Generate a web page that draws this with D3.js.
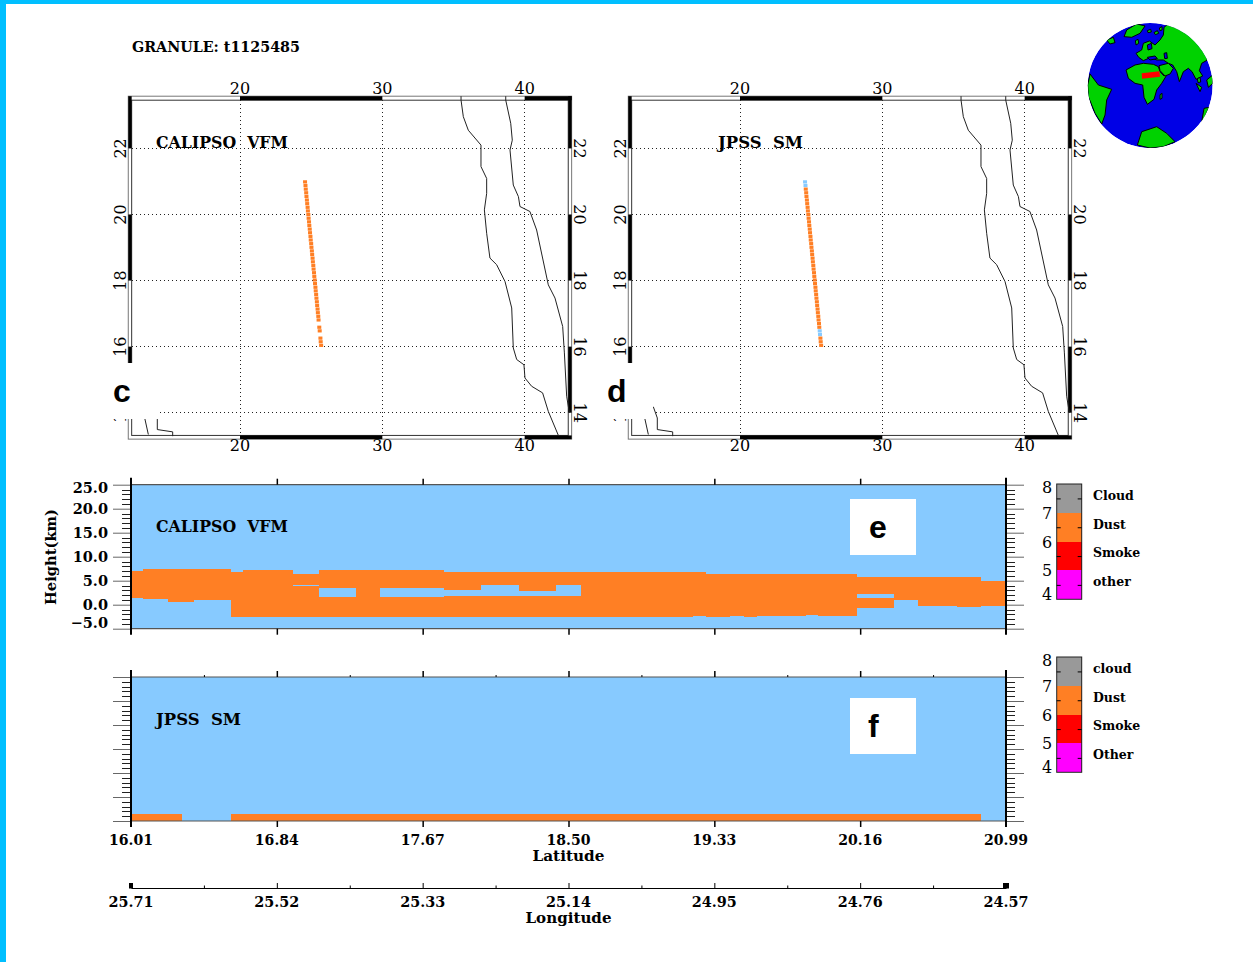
<!DOCTYPE html>
<html><head><meta charset="utf-8">
<script src="https://cdnjs.cloudflare.com/ajax/libs/d3/7.8.5/d3.min.js"></script>
<style>html,body{margin:0;padding:0;background:#fff}svg{display:block}text{white-space:pre}</style>
</head><body>
<svg id="c" width="1253" height="962"></svg>
<script>
const granule = "GRANULE: t1125485";
// Map data (degrees)
const lonTicks = [20,30,40];
const latTicks = [22,20,18,16,14];
const lonBands = [[20,30],[40,43.3]];
const latBands = [[23.58,22],[20,18],[16,14]];
const coastA = [[35.53,23.58],[35.53,23.46],[35.69,22.96],[36.04,22.55],[36.93,22.10],[36.93,21.45],[37.33,21.09],[37.33,20.64],[37.17,20.14],[37.33,19.43],[37.56,18.68],[38.03,18.48],[38.62,17.97],[39.09,17.17],[39.20,15.96],[39.44,15.61],[39.95,15.45],[40.02,15.05],[40.49,14.80],[41.26,14.60],[41.66,14.04],[42.37,13.31]];
const coastB = [[38.67,23.58],[38.67,23.46],[39.02,22.76],[39.13,22.25],[38.97,21.95],[39.20,20.89],[39.56,20.54],[39.67,20.24],[40.37,20.09],[40.84,19.53],[41.66,17.87],[42.13,17.47],[42.67,16.61],[42.79,15.81],[42.95,14.50],[43.14,13.99]];
const coastC = [[13.91,14.18],[14.19,13.84],[14.19,13.49],[15.27,13.42],[15.27,13.29]];
const coastD = [[13.32,13.81],[13.56,13.34]];
const trackLat = [20.99,20.88,20.77,20.66,20.55,20.44,20.33,20.22,20.11,20.00,19.89,19.78,19.67,19.56,19.45,19.34,19.23,19.12,19.01,18.90,18.79,18.68,18.57,18.46,18.35,18.24,18.13,18.02,17.91,17.80,17.69,17.58,17.47,17.36,17.25,17.14,17.03,16.92,16.81,16.70,16.59,16.48,16.37,16.26,16.15,16.04];
const trackLon = [24.57,24.60,24.62,24.65,24.67,24.70,24.72,24.75,24.77,24.80,24.82,24.85,24.87,24.90,24.92,24.95,24.97,25.00,25.02,25.05,25.07,25.10,25.12,25.15,25.17,25.20,25.22,25.25,25.27,25.30,25.32,25.35,25.37,25.40,25.42,25.45,25.47,25.50,25.52,25.55,25.57,25.60,25.62,25.65,25.67,25.70];
const vfmDust = [1,1,1,1,1,1,1,1,1,1,1,1,1,1,1,1,1,1,1,1,1,1,1,1,1,1,1,1,1,1,1,1,1,1,1,1,1,1,1,0,1,1,0,1,1,1];
const smDust  = [0,0,1,1,1,1,1,1,1,1,1,1,1,1,1,1,1,1,1,1,1,1,1,1,1,1,1,1,1,1,1,1,1,1,1,1,1,1,1,1,1,0,0,1,1,1];
// Curtain data: latitude start, latitude end, layer base, layer top (km)
const vfmFrom = [16.01,16.08,16.22,16.37,16.58,16.65,16.93,16.93,17.08,17.08,17.29,17.43,17.43,17.79,17.79,18.00,18.00,18.22,18.22,18.43,18.43,18.57,19.21,19.28,19.42,19.50,19.57,19.85,19.92,20.14,20.14,20.35,20.49,20.71,20.85];
const vfmTo   = [16.08,16.22,16.37,16.58,16.65,16.93,17.08,17.08,17.29,17.29,17.43,17.79,17.79,18.00,18.00,18.22,18.22,18.43,18.43,18.57,18.57,19.21,19.28,19.42,19.50,19.57,19.85,19.92,20.14,20.35,20.35,20.49,20.71,20.85,20.99];
const vfmBase = [1.4,1.2,0.6,1.0,-2.6,-2.6,4.1,-2.6,3.5,-2.6,-2.6,3.5,-2.6,3.05,-2.6,4.2,-2.6,2.85,-2.6,4.2,-2.6,-2.6,-2.3,-2.6,-2.3,-2.6,-2.4,-2.15,-2.4,2.2,-0.75,1.0,-0.35,-0.55,-0.35];
const vfmTop  = [7.0,7.4,7.4,7.4,6.8,7.2,6.5,3.8,7.2,1.6,7.2,7.2,1.6,6.8,1.8,6.8,1.8,6.8,1.8,6.8,1.8,6.8,6.8,6.45,6.45,6.45,6.45,6.45,6.45,5.8,1.3,5.8,5.8,5.8,4.85];
const smFrom = [16.01,16.58];
const smTo   = [16.30,20.85];
const smBase = [-5,-5];
const smTop  = [-3.5,-3.5];
// Axes
const heightMajor = [25,20,15,10,5,0,-5];
const heightMinor = [24,23,22,21,19,18,17,16,14,13,12,11,9,8,7,6,4,3,2,1,-1,-2,-3,-4];
const latAxisTicks = [16.01,16.84,17.67,18.50,19.33,20.16,20.99];
const latAxisLabels = ["16.01","16.84","17.67","18.50","19.33","20.16","20.99"];
const lonAxisLabels = ["25.71","25.52","25.33","25.14","24.95","24.76","24.57"];
const lonAxisTicks = [25.71,25.52,25.33,25.14,24.95,24.76,24.57];
const lonAxisMinor = [25.615,25.425,25.235,25.045,24.855,24.665];
const latAxisMinor = [16.425,17.255,18.085,18.915,19.745,20.575];
// Legends
const legendCodes = [7,6,5,4];
const legendColors = ["#999999","#FF7F24","#FF0000","#FF00FF"];
const legendNamesE = ["Cloud","Dust","Smoke","other"];
const legendNamesF = ["cloud","Dust","Smoke","Other"];
const legendTicks = [8,7,6,5,4];
// Globe outlines, in reading units of the inset
const landEurasia = [[312,82],[322,74],[345,82],[385,100],[412,128],[437,160],[442,180],[425,190],[418,212],[428,228],[408,238],[396,215],[385,205],[370,215],[358,245],[350,215],[338,195],[325,190],[310,180],[290,180],[272,172],[250,182],[236,172],[228,160],[245,150],[250,130],[268,123],[285,135],[300,120],[310,105]];
const landAfrica = [[198,210],[225,195],[250,190],[280,193],[295,200],[300,215],[312,228],[322,222],[305,250],[290,270],[282,298],[262,313],[252,292],[248,255],[225,250],[205,235]];
const landArabia = [[297,197],[325,190],[340,205],[330,222],[315,228],[300,212]];
const landGreenland = [[192,110],[200,90],[230,72],[255,78],[240,100],[215,112]];
const landSouthAmerica = [[90,222],[115,255],[155,268],[140,300],[135,345],[125,372],[105,340],[85,290],[83,255]];
const landAntarctica = [[232,435],[245,395],[290,380],[320,400],[345,425],[310,440],[270,444]];
const landAustralia = [[432,325],[447,322],[435,350],[425,365]];
const landIndonesia = [[440,240],[458,225],[458,250],[445,262]];
const landBorneo = [[408,250],[425,262],[420,275]];
const landBritain = [[226,122],[234,118],[236,130],[228,135]];
const landIceland = [[140,120],[160,112],[165,128],[150,132]];
const landMadagascar = [[300,284],[306,280],[306,295],[300,298]];
const islandNorth1 = [[262,92],[272,88],[274,96],[264,98]];
const islandNorth2 = [[282,98],[292,92],[296,100],[286,104]];
const islandNorth3 = [[298,84],[306,80],[306,90],[300,92]];
const islandJapan = [[412,236],[420,232],[422,246],[414,248]];
const seaBlack = [[262,172],[285,168],[292,176],[270,180]];
const seaCaspian = [[312,160],[320,158],[322,175],[314,176]];
const seaBaltic = [[262,135],[274,130],[276,146],[264,150]];
const globeLands = [landEurasia,landAfrica,landArabia,landGreenland,landSouthAmerica,landAntarctica,landAustralia,landIndonesia,landBorneo,landBritain,landIceland,landMadagascar,islandNorth1,islandNorth2,islandNorth3,islandJapan];
const globeSeas = [seaBlack,seaCaspian,seaBaltic];
const swath = [[245,220],[298,214],[300,230],[246,236]];

const SERIF = "'DejaVu Serif','Liberation Serif',serif";
const SANS = "'Liberation Sans',Arial,sans-serif";
const DUST = "#FF7F24", CLEAR = "#87CAFF";
const svg = d3.select("#c");
svg.append("rect").attr("width",1253).attr("height",962).attr("fill","#fff");
svg.append("rect").attr("width",1253).attr("height",4).attr("fill","#00BFFF");
svg.append("rect").attr("width",6).attr("height",962).attr("fill","#00BFFF");

function txt(p,x,y,s,o={}){
  const t=p.append("text").attr("x",x).attr("y",y).text(s)
    .attr("font-family",o.family||SERIF).attr("font-size",o.size||14)
    .attr("font-weight",o.weight||"bold").attr("fill","#000")
    .attr("text-anchor",o.anchor||"start");
  if(o.len) t.attr("textLength",o.len).attr("lengthAdjust","spacingAndGlyphs");
  if(o.rot!==undefined) t.attr("transform",`rotate(${o.rot} ${x} ${y})`);
  return t;
}
txt(svg,132,51.5,granule,{size:14,len:168});

function drawMap(dx,title,titleX,titleLen,flags,noDust,letter,letterX,patchW){
  const g=svg.append("g");
  const x=d3.scaleLinear().domain([20,40]).range([240+dx,524.67+dx]);
  const y=d3.scaleLinear().domain([22,14]).range([148.4,412.7]);
  const L=x(12.15),R=x(43.3),T=y(23.58),B=y(13.2);
  const iL=L+3.4,iR=R-3.4,iT=T+4,iB=B-3.7;
  // grid
  g.append("g").selectAll("line").data(lonTicks).join("line")
    .attr("x1",d=>x(d)).attr("x2",d=>x(d)).attr("y1",iT).attr("y2",iB)
    .attr("stroke","#222").attr("stroke-dasharray","1 3").attr("shape-rendering","crispEdges");
  g.append("g").selectAll("line").data(latTicks).join("line")
    .attr("x1",iL).attr("x2",iR).attr("y1",d=>y(d)).attr("y2",d=>y(d))
    .attr("stroke","#222").attr("stroke-dasharray","1 3").attr("shape-rendering","crispEdges");
  // frame
  g.append("rect").attr("x",L).attr("y",T).attr("width",R-L).attr("height",B-T).attr("fill","none").attr("stroke","#777").attr("stroke-width",1);
  g.append("rect").attr("x",iL).attr("y",iT).attr("width",iR-iL).attr("height",iB-iT).attr("fill","none").attr("stroke","#333").attr("stroke-width",1);
  lonBands.forEach(b=>{
    [[T,iT],[iB,B]].forEach(v=>g.append("rect").attr("x",x(b[0])).attr("y",v[0]).attr("width",Math.min(x(b[1]),R)-x(b[0])).attr("height",v[1]-v[0]).attr("fill","#000"));
  });
  latBands.forEach(b=>{
    [[L,iL],[iR,R]].forEach(v=>g.append("rect").attr("x",v[0]).attr("y",y(b[0])).attr("width",v[1]-v[0]).attr("height",y(b[1])-y(b[0])).attr("fill","#000"));
  });
  // coast
  const line=d3.line().x(d=>x(d[0])).y(d=>y(d[1]));
  [coastA,coastB,coastC,coastD].forEach(c=>g.append("path").attr("d",line(c)).attr("fill","none").attr("stroke","#222").attr("stroke-width",1));
  // labels
  lonTicks.forEach(d=>{
    txt(g,x(d),93.5,d,{size:16,weight:"normal",anchor:"middle"});
    txt(g,x(d),451,d,{size:16,weight:"normal",anchor:"middle"});
  });
  latTicks.forEach(d=>{
    txt(g,126+dx,y(d),d,{size:16,weight:"normal",anchor:"middle",rot:-90});
    txt(g,574+dx,y(d),d,{size:16,weight:"normal",anchor:"middle",rot:90});
  });
  txt(g,titleX+dx,148,title,{size:16.5,len:titleLen});
  // track
  g.append("g").selectAll("rect").data(trackLat).join("rect")
    .attr("x",(d,i)=>x(trackLon[i])-2).attr("y",d=>y(d)-1.5).attr("width",4).attr("height",3.2)
    .attr("fill",(d,i)=>flags[i]?DUST:noDust).attr("opacity",(d,i)=>(flags[i]||noDust!=="none")?1:0);
  // letter patch
  g.append("rect").attr("x",105+dx).attr("y",363).attr("width",patchW).attr("height",56).attr("fill","#fff");
  txt(g,letterX+dx,401.7,letter,{family:SANS,size:32});
}
drawMap(0,"CALIPSO  VFM",156,132,vfmDust,"none","c",113,55);
drawMap(500,"JPSS  SM",218,85,smDust,CLEAR,"d",107,48);

// Globe
(function(){
  const gx=d3.scaleLinear().domain([83,458]).range([1087.7,1212.7]);
  const gy=d3.scaleLinear().domain([70,443]).range([23.3,147.7]);
  const g=svg.append("g");
  const cid="globeclip";
  svg.append("defs").append("clipPath").attr("id",cid).append("circle").attr("cx",gx(270.5)).attr("cy",gy(256.5)).attr("r",62.4);
  const inner=g.append("g").attr("clip-path",`url(#${cid})`);
  inner.append("circle").attr("cx",gx(270.5)).attr("cy",gy(256.5)).attr("r",62.4).attr("fill","#0000E6");
  const ln=d3.line().x(d=>gx(d[0])).y(d=>gy(d[1])).curve(d3.curveLinearClosed);
  globeLands.forEach(p=>inner.append("path").attr("d",ln(p)).attr("fill","#00D200").attr("stroke","#000").attr("stroke-width",1));
  globeSeas.forEach(p=>inner.append("path").attr("d",ln(p)).attr("fill","#0000E6").attr("stroke","#000").attr("stroke-width",1));
  inner.append("path").attr("d",ln(swath)).attr("fill","#FF0000");
})();

// Curtains
const xLat=d3.scaleLinear().domain([16.01,20.99]).range([131,1006]);
function curtain(yTop,from,to,base,top,labels,title,titleLen,letter,letterX,patchY,topMinor){
  const yB=yTop+144;
  const y=d3.scaleLinear().domain([-5,25]).range([yB,yTop]);
  const g=svg.append("g");
  g.append("rect").attr("x",xLat.range()[0]).attr("y",y(25)).attr("width",875).attr("height",y(-5)-y(25)).attr("fill",CLEAR);
  g.append("g").attr("shape-rendering","crispEdges").selectAll("rect").data(from).join("rect")
    .attr("x",d=>xLat(d)).attr("width",(d,i)=>xLat(to[i])-xLat(d))
    .attr("y",(d,i)=>y(top[i])).attr("height",(d,i)=>y(base[i])-y(top[i])).attr("fill",DUST);
  // frame
  [25,-5].forEach(v=>g.append("line").attr("x1",131).attr("x2",1006).attr("y1",y(v)).attr("y2",y(v)).attr("stroke","#555").attr("stroke-width",1.2));
  // y axes
  const styleAxis=(a,col)=>{a.select(".domain").remove();a.selectAll("line").attr("stroke",col);};
  [[d3.axisLeft,131],[d3.axisRight,1006]].forEach(([ax,px])=>{
    const maj=g.append("g").attr("transform",`translate(${px},0)`).call(ax(y).tickValues(heightMajor).tickSizeOuter(0).tickSize(18).tickFormat(""));
    styleAxis(maj,"#666");
    const mn=g.append("g").attr("transform",`translate(${px},0)`).call(ax(y).tickValues(heightMinor).tickSizeOuter(0).tickSize(9).tickFormat(""));
    styleAxis(mn,"#222");
    mn.selectAll("line").attr("shape-rendering","crispEdges");
    g.append("line").attr("x1",px).attr("x2",px).attr("y1",yTop-7).attr("y2",yB+6).attr("stroke","#000").attr("stroke-width",2);
  });
  // x ticks
  const inside=latAxisTicks.slice(1,-1);
  const t=g.append("g").attr("transform",`translate(0,${yTop})`).call(d3.axisTop(xLat).tickValues(inside).tickSizeOuter(0).tickSize(6).tickFormat(""));
  styleAxis(t,"#000"); t.selectAll("line").attr("stroke-width",1.5);
  const b=g.append("g").attr("transform",`translate(0,${yB})`).call(d3.axisBottom(xLat).tickValues(inside).tickSizeOuter(0).tickSize(6).tickFormat(""));
  styleAxis(b,"#000"); b.selectAll("line").attr("stroke-width",1.5);
  if(topMinor){
    const tm=g.append("g").attr("transform",`translate(0,${yTop})`).call(d3.axisTop(xLat).tickValues(latAxisMinor).tickSizeOuter(0).tickSize(2).tickFormat(""));
    styleAxis(tm,"#000");
  }
  if(labels){
    heightMajor.forEach(v=>{
      const yy=Math.max(Math.min(y(v)+5,628.3),493);
      txt(g,108,yy,d3.format(".1f")(v).replace("-","\u2212"),{anchor:"end",size:14.5});
    });
    txt(g,56,557,"Height(km)",{anchor:"middle",rot:-90,size:14,len:96});
  }
  txt(g,156,yTop+47.5,title,{size:16.5,len:titleLen});
  g.append("rect").attr("x",850).attr("y",patchY).attr("width",66).attr("height",56).attr("fill","#fff");
  txt(g,letterX,patchY+39,letter,{family:SANS,size:32});
}
curtain(484.7,vfmFrom,vfmTo,vfmBase,vfmTop,true,"CALIPSO  VFM",132,"e",869,499,false);
curtain(677,smFrom,smTo,smBase,smTop,false,"JPSS  SM",85,"f",868,698,true);

// Bottom axes labels
latAxisTicks.forEach((v,i)=>txt(svg,xLat(v),845,latAxisLabels[i],{anchor:"middle",size:14,len:44}));
txt(svg,568.5,861,"Latitude",{anchor:"middle",size:14,len:72});
const xLon=d3.scaleLinear().domain([25.71,24.57]).range([131,1006]);
const lonG=svg.append("g").attr("transform","translate(0,888)");
lonG.call(d3.axisTop(xLon).tickValues(lonAxisTicks).tickSize(5).tickSizeOuter(0).tickFormat(""));
lonG.select(".domain").attr("stroke","#000").attr("stroke-width",1);
lonG.selectAll("line").attr("stroke","#000");
const lonMin=svg.append("g").attr("transform","translate(0,888)").call(d3.axisTop(xLon).tickValues(lonAxisMinor).tickSize(2.5).tickSizeOuter(0).tickFormat(""));
lonMin.select(".domain").remove();
[25.71,24.57].forEach(v=>svg.append("rect").attr("x",xLon(v)-(v===25.71?2:3)).attr("y",883).attr("width",v===25.71?4:6).attr("height",5.5).attr("fill","#000"));
lonAxisTicks.forEach((v,i)=>txt(svg,xLon(v),906.7,lonAxisLabels[i],{anchor:"middle",size:14,len:45}));
txt(svg,568.5,923,"Longitude",{anchor:"middle",size:14,len:86});

// Legends
function legend(top,names){
  const y=d3.scaleLinear().domain([4,8]).range([top+115.3,top]);
  const g=svg.append("g");
  g.selectAll("rect.band").data(legendCodes).join("rect").attr("class","band")
    .attr("x",1056.7).attr("width",25).attr("y",d=>y(d+1)).attr("height",d=>y(d)-y(d+1))
    .attr("fill",(d,i)=>legendColors[i]).attr("shape-rendering","crispEdges");
  g.append("rect").attr("x",1056.7).attr("y",top).attr("width",25).attr("height",115.3).attr("fill","none").attr("stroke","#222").attr("stroke-width",1);
  const lx=g.append("g").attr("transform","translate(1056.7,0)").call(d3.axisRight(y).tickValues([7.5,6.5,5.5,4.5]).tickSize(4).tickSizeOuter(0).tickFormat(""));
  lx.select(".domain").remove();
  const rx=g.append("g").attr("transform","translate(1081.7,0)").call(d3.axisLeft(y).tickValues([7.5,6.5,5.5,4.5]).tickSize(4).tickSizeOuter(0).tickFormat(""));
  rx.select(".domain").remove();
  legendTicks.forEach(v=>{
    const yy=Math.min(Math.max(y(v),top+2.5),top+110);
    txt(g,1047,yy+6,v,{anchor:"middle",size:16,weight:"normal"});
  });
  legendCodes.forEach((d,i)=>txt(g,1093,(y(d)+y(d+1))/2+1.3,names[i],{size:12.5}));
}
legend(484,legendNamesE);
legend(657,legendNamesF);
</script>
</body></html>
